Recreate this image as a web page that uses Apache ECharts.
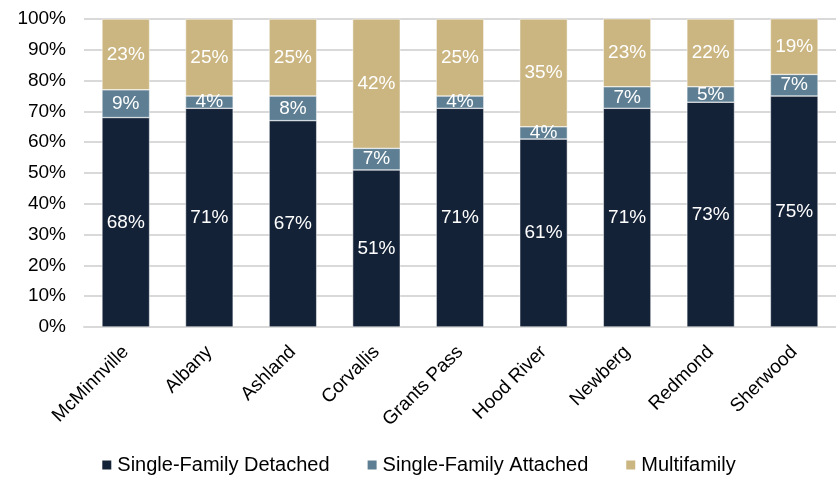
<!DOCTYPE html>
<html><head><meta charset="utf-8">
<script src="https://cdn.jsdelivr.net/npm/echarts@6/dist/echarts.min.js"></script>
<style>html,body{margin:0;padding:0;background:#fff}#c{width:836px;height:483px}</style>
</head><body><div id="c"></div>
<script>
const categories = ['McMinnville','Albany','Ashland','Corvallis','Grants Pass','Hood River','Newberg','Redmond','Sherwood'];
const detached = [68,71,67,51,71,61,71,73,75];
const attached = [9,4,8,7,4,4,7,5,7];
const multifamily = [23,25,25,42,25,35,23,22,19];
const yTicks = [0,10,20,30,40,50,60,70,80,90,100];

const font = 'Liberation Sans';
const chart = echarts.init(document.getElementById('c'));
function ser(name, data, color){
  return {name, type:'bar', stack:'s', data, barCategoryGap:'43%',
    itemStyle:{color, borderColor:'#ffffff', borderWidth:0.5},
    label:{show:true, position:'inside', color:'#fff', fontSize:19, fontFamily:font, formatter:'{c}%'}};
}
chart.setOption({
  animation:false,
  grid:{left:84, right:0, top:19, bottom:156},
  xAxis:{type:'category', data:categories,
    axisLine:{lineStyle:{color:'#d9d9d9', width:2}}, axisTick:{show:false},
    axisLabel:{rotate:45, color:'#000', fontSize:19, fontFamily:font, margin:22, interval:0}},
  yAxis:{type:'value', min:0, max:100, interval:10,
    axisLine:{show:false}, axisTick:{show:false},
    splitLine:{lineStyle:{color:'#d9d9d9', width:2}},
    axisLabel:{color:'#000', fontSize:19, fontFamily:font, margin:18, formatter:v=>v+'%'}},
  legend:{bottom:3, left:'center', itemWidth:11, itemHeight:11, itemGap:36, icon:'rect',
    textStyle:{color:'#000', fontSize:20, fontFamily:font}},
  series:[ser('Single-Family Detached', detached, '#142237'),
          ser('Single-Family Attached', attached, '#5e7f93'),
          ser('Multifamily', multifamily, '#cbb682')]
});
</script></body></html>
